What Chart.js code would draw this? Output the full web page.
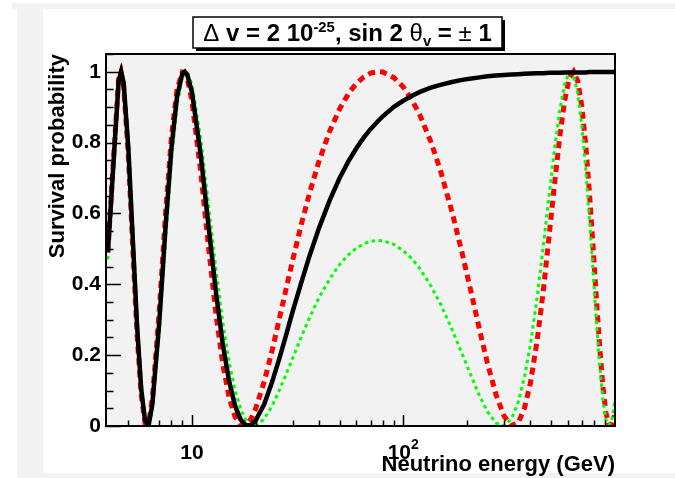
<!DOCTYPE html>
<html>
<head>
<meta charset="utf-8">
<script src="https://cdn.jsdelivr.net/npm/chart.js@4.4.1/dist/chart.umd.min.js"></script>
<style>
  html, body { margin: 0; padding: 0; background: #ffffff; }
  canvas { display: block; }
</style>
</head>
<body>
<canvas id="chart" width="675" height="478"></canvas>
<script>
// energies in GeV
const energies = [4.0, 4.25, 4.5, 4.62, 4.75, 5.0, 5.25, 5.5, 5.75, 6.0, 6.25, 6.5, 7, 7.5, 8, 8.5, 9, 9.25, 9.5, 10,
    11, 12, 13, 14, 15, 16, 17, 18, 19, 20, 22, 24, 26, 28, 30, 33, 36, 40, 45, 50, 55, 60, 65, 70, 76, 80, 90, 100,
    110, 120, 135, 150, 170, 190, 210, 230, 250, 275, 300, 325, 350, 375, 400, 430, 460, 490, 520, 550, 580, 610,
    640, 670, 700, 730, 760, 790, 820, 850, 880, 910, 940, 970, 1000];

const blackValues = [0.49, 0.74, 0.974, 1.0, 0.969, 0.784, 0.526, 0.282, 0.106, 0.015, 0.005, 0.062, 0.291, 0.561, 0.785, 0.929, 0.994, 1.0, 0.992, 0.943,
    0.766, 0.560, 0.376, 0.230, 0.126, 0.057, 0.018, 0.002, 0.002, 0.015, 0.062, 0.126, 0.193, 0.260, 0.324, 0.407, 0.480, 0.560, 0.639, 0.700, 0.747, 0.784, 0.814, 0.838, 0.861, 0.874, 0.900, 0.918,
    0.932, 0.943, 0.955, 0.963, 0.971, 0.977, 0.981, 0.984, 0.987, 0.989, 0.991, 0.992, 0.993, 0.994, 0.995, 0.996, 0.996, 0.997, 0.997, 0.997, 0.998, 0.998,
    0.998, 0.998, 0.998, 0.998, 0.999, 0.999, 0.999, 0.999, 0.999, 0.999, 0.999, 0.999, 0.999];

const redValues = [0.49, 0.75, 0.981, 0.999, 0.960, 0.763, 0.500, 0.258, 0.089, 0.008, 0.011, 0.078, 0.323, 0.598, 0.817, 0.949, 0.999, 0.997, 0.982, 0.917,
    0.718, 0.501, 0.315, 0.174, 0.080, 0.026, 0.003, 0.003, 0.019, 0.048, 0.126, 0.215, 0.306, 0.391, 0.469, 0.571, 0.657, 0.749, 0.834, 0.895, 0.938, 0.967, 0.985, 0.996, 1.0, 0.999, 0.984, 0.957,
    0.920, 0.877, 0.803, 0.721, 0.605, 0.488, 0.375, 0.270, 0.179, 0.088, 0.028, 0.001, 0.009, 0.051, 0.122, 0.240, 0.381, 0.536, 0.683, 0.815, 0.917, 0.981,
    1.0, 0.973, 0.903, 0.796, 0.662, 0.513, 0.362, 0.226, 0.114, 0.038, 0.006, 0.003, 0.03];

const greenValues = [0.47, 0.72, 0.967, 1.0, 0.976, 0.804, 0.552, 0.309, 0.125, 0.023, 0.002, 0.047, 0.260, 0.523, 0.751, 0.905, 0.984, 0.998, 0.998, 0.964,
    0.811, 0.619, 0.440, 0.292, 0.179, 0.100, 0.048, 0.017, 0.003, 0.0, 0.020, 0.058, 0.103, 0.148, 0.192, 0.253, 0.305, 0.363, 0.416, 0.456, 0.483, 0.502, 0.514, 0.521, 0.524, 0.523, 0.513, 0.495,
    0.472, 0.444, 0.396, 0.345, 0.273, 0.204, 0.140, 0.084, 0.041, 0.008, 0.001, 0.020, 0.067, 0.139, 0.231, 0.362, 0.508, 0.650, 0.783, 0.889, 0.964, 0.998,
    0.989, 0.938, 0.849, 0.729, 0.588, 0.443, 0.297, 0.172, 0.077, 0.017, 0.002, 0.015, 0.065];

const yTickValues = [0, 0.2, 0.4, 0.6, 0.8, 1];
const yTickLabels = ['0', '0.2', '0.4', '0.6', '0.8', '1'];
const yMinorTicks = [0.05, 0.1, 0.15, 0.25, 0.3, 0.35, 0.45, 0.5, 0.55, 0.65, 0.7, 0.75, 0.85, 0.9, 0.95, 1.05];
const xTickValues = [10, 100];
const xTickBase = ['10', '10'];
const xTickExponent = ['', '2'];
const xMinorTicks = [5, 6, 7, 8, 9, 20, 30, 40, 50, 60, 70, 80, 90, 200, 300, 400, 500, 600, 700, 800, 900];

const FONT = "'Liberation Sans', Arial, Helvetica, sans-serif";

function toPoints(values) {
    return energies.map((e, i) => ({ x: e, y: values[i] }));
}

function drawTitle(ctx) {
    const base = 24;
    const parts = [
        { t: 'Δ', w: 'normal', s: 1, dy: 0 },
        { t: ' v = 2 10', w: 'bold', s: 1, dy: 0 },
        { t: '-25', w: 'bold', s: 0.62, dy: -9 },
        { t: ', sin 2 ', w: 'bold', s: 1, dy: 0 },
        { t: 'θ', w: 'normal', s: 1, dy: 0 },
        { t: 'v', w: 'bold', s: 0.62, dy: 5 },
        { t: ' = ', w: 'bold', s: 1, dy: 0 },
        { t: '±', w: 'normal', s: 1, dy: 0 },
        { t: ' 1', w: 'bold', s: 1, dy: 0 }
    ];
    const box = { x: 193, y: 17, w: 309, h: 31 };
    ctx.save();
    // shadow
    ctx.fillStyle = '#000000';
    ctx.fillRect(box.x + 3, box.y + 3, box.w, box.h);
    ctx.fillStyle = '#ffffff';
    ctx.fillRect(box.x, box.y, box.w, box.h);
    ctx.strokeStyle = '#000000';
    ctx.lineWidth = 1.5;
    ctx.strokeRect(box.x, box.y, box.w, box.h);

    let total = 0;
    parts.forEach(p => {
        ctx.font = `${p.w} ${base * p.s}px ${FONT}`;
        p.width = ctx.measureText(p.t).width;
        total += p.width;
    });
    let x = box.x + (box.w - total) / 2;
    const baseline = box.y + 24;
    ctx.fillStyle = '#000000';
    ctx.textBaseline = 'alphabetic';
    ctx.textAlign = 'left';
    parts.forEach(p => {
        ctx.font = `${p.w} ${base * p.s}px ${FONT}`;
        ctx.fillText(p.t, x, baseline + p.dy);
        x += p.width;
    });
    ctx.restore();
}

const rootFrame = {
    id: 'rootFrame',
    beforeDraw(chart) {
        const { ctx, chartArea: a } = chart;
        ctx.save();
        ctx.fillStyle = '#ffffff';
        ctx.fillRect(0, 0, chart.width, chart.height);
        ctx.fillStyle = '#f2f2f2';
        ctx.fillRect(12, 3, chart.width - 12, 6);
        ctx.fillRect(17, 9, 26, chart.height - 9);
        ctx.fillRect(17, 473, chart.width - 17, 5);
        ctx.fillRect(a.left, a.top, a.right - a.left, a.bottom - a.top);
        ctx.restore();
    },
    afterDraw(chart) {
        const { ctx, chartArea: a, scales } = chart;
        const xs = scales.x, ys = scales.y;
        ctx.save();
        ctx.strokeStyle = '#000000';
        ctx.lineWidth = 1.5;
        ctx.beginPath();
        yTickValues.forEach(v => {
            const y = Math.round(ys.getPixelForValue(v)) + 0.5;
            ctx.moveTo(a.left, y); ctx.lineTo(a.left + 15, y);
        });
        yMinorTicks.forEach(v => {
            const y = Math.round(ys.getPixelForValue(v)) + 0.5;
            ctx.moveTo(a.left, y); ctx.lineTo(a.left + 7.5, y);
        });
        xTickValues.forEach(v => {
            const x = Math.round(xs.getPixelForValue(v)) + 0.5;
            ctx.moveTo(x, a.bottom); ctx.lineTo(x, a.bottom - 11);
        });
        xMinorTicks.forEach(v => {
            const x = Math.round(xs.getPixelForValue(v)) + 0.5;
            ctx.moveTo(x, a.bottom); ctx.lineTo(x, a.bottom - 5.5);
        });
        ctx.stroke();

        ctx.lineWidth = 2;
        ctx.strokeRect(a.left, a.top, a.right - a.left, a.bottom - a.top);

        // x tick labels, with ROOT style exponent
        ctx.fillStyle = '#000000';
        ctx.textBaseline = 'alphabetic';
        ctx.textAlign = 'left';
        xTickValues.forEach((v, i) => {
            const x = xs.getPixelForValue(v);
            ctx.font = `bold 21px ${FONT}`;
            const bw = ctx.measureText(xTickBase[i]).width;
            ctx.font = `bold 14px ${FONT}`;
            const ew = xTickExponent[i] ? ctx.measureText(xTickExponent[i]).width : 0;
            const left = x - (bw + ew) / 2;
            ctx.font = `bold 21px ${FONT}`;
            ctx.fillText(xTickBase[i], left, 459);
            if (ew) {
                ctx.font = `bold 14px ${FONT}`;
                ctx.fillText(xTickExponent[i], left + bw, 449);
            }
        });

        // axis titles
        ctx.font = `bold 22px ${FONT}`;
        ctx.textAlign = 'right';
        ctx.fillText('Neutrino energy (GeV)', a.right, 471);

        ctx.translate(64, a.top);
        ctx.rotate(-Math.PI / 2);
        ctx.fillText('Survival probability', 0, 0);
        ctx.restore();

        drawTitle(ctx);
    }
};

new Chart(document.getElementById('chart').getContext('2d'), {
    type: 'line',
    data: {
        datasets: [
            {
                label: 'black',
                data: toPoints(blackValues),
                borderColor: '#000000',
                borderWidth: 4.5,
                order: 0
            },
            {
                label: 'green',
                data: toPoints(greenValues),
                borderColor: '#00ff00',
                borderWidth: 3,
                borderDash: [3.5, 3.5],
                order: 1
            },
            {
                label: 'red',
                data: toPoints(redValues),
                borderColor: '#ff0000',
                borderWidth: 5,
                borderDash: [7, 5],
                order: 2
            }
        ]
    },
    options: {
        responsive: false,
        animation: false,
        events: [],
        elements: {
            point: { radius: 0 },
            line: { tension: 0, fill: false, borderCapStyle: 'butt', borderJoinStyle: 'miter' }
        },
        layout: { padding: { top: 54, right: 60, bottom: 0, left: 0 } },
        plugins: {
            legend: { display: false },
            tooltip: { enabled: false }
        },
        scales: {
            x: {
                type: 'logarithmic',
                position: 'bottom',
                min: 3.92,
                max: 1005,
                grid: { display: false, drawTicks: false },
                border: { display: false },
                afterFit: (scale) => { scale.height = 52; },
                afterBuildTicks: (scale) => { scale.ticks = xTickValues.map(v => ({ value: v })); },
                ticks: { display: false }
            },
            y: {
                type: 'linear',
                min: 0,
                max: 1.05,
                grid: { display: false, drawTicks: false },
                border: { display: false },
                afterFit: (scale) => { scale.width = 106; },
                afterBuildTicks: (scale) => { scale.ticks = yTickValues.map(v => ({ value: v })); },
                ticks: {
                    autoSkip: false,
                    padding: 5,
                    color: '#000000',
                    font: { family: FONT, size: 21, weight: 'bold' },
                    callback: (value, index) => yTickLabels[index]
                }
            }
        }
    },
    plugins: [rootFrame]
});
</script>
</body>
</html>
